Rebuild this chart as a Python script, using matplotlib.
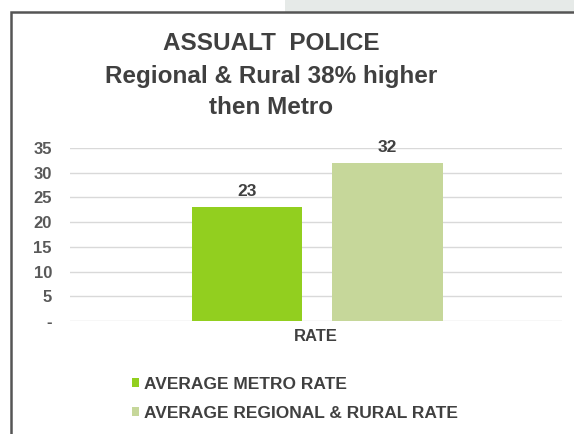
import matplotlib.pyplot as plt
from matplotlib.patches import Rectangle, Patch

plt.rcParams['font.family'] = ['Liberation Sans', 'DejaVu Sans']

# data
category = ['RATE']
series_names = ['AVERAGE METRO RATE', 'AVERAGE REGIONAL & RURAL RATE']
series_values = [23, 32]
series_colors = ['#92CF1F', '#C6D79A']
yticks = [0, 5, 10, 15, 20, 25, 30, 35]
ytick_labels = ['-', '5', '10', '15', '20', '25', '30', '35']
title_lines = ['ASSUALT  POLICE', 'Regional & Rural 38% higher', 'then Metro']

W, H = 574, 434
fig = plt.figure(figsize=(W / 100, H / 100), dpi=100)

# light strip above the frame on the right
fig.patches.append(Rectangle((285 / W, 1 - 12 / H), 1, 1, transform=fig.transFigure,
                             facecolor='#E6EAE8', edgecolor='none', zorder=0))
# chart frame (runs off the right and bottom of the picture)
fig.patches.append(Rectangle((11 / W, -0.1), 1, 1 - 12 / H + 0.1, transform=fig.transFigure,
                             facecolor='white', edgecolor='#555555', linewidth=1.8, zorder=1))

ax = fig.add_axes([70 / W, 1 - 321 / H, (562 - 70) / W, (321 - 148) / H])
ax.set_zorder(2)
ax.patch.set_alpha(0)

width = 0.224
gap = 0.061
offsets = [-(width + gap) / 2, (width + gap) / 2]
for off, val, col, name in zip(offsets, series_values, series_colors, series_names):
    ax.bar(0.003 + off, val, width=width, color=col, label=name, zorder=3)
    ax.text(0.003 + off, val + 1.6, str(val), ha='center', va='bottom',
            fontsize=12.5, fontweight='bold', color='#404040')

ax.set_xlim(-0.5, 0.5)
ax.set_ylim(0, 35)
ax.set_yticks(yticks)
ax.set_yticklabels(ytick_labels, fontsize=12, fontweight='bold', color='#595959')
ax.set_xticks([0.0])
ax.set_xticklabels(category, fontsize=12, fontweight='bold', color='#404040')
ax.tick_params(axis='y', length=0, pad=13)
ax.tick_params(axis='x', length=0, pad=6)
ax.grid(axis='y', color='#D9D9D9', linewidth=1)
ax.set_axisbelow(True)
for s in ax.spines.values():
    s.set_visible(False)

title_y = [44, 77, 108]
for line, yy in zip(title_lines, title_y):
    fig.text(0.472, 1 - yy / H, line, ha='center', va='center',
             fontsize=17.5, fontweight='bold', color='#404040', zorder=5)

handles = [Patch(facecolor=c, edgecolor='none') for c in series_colors]
leg = fig.legend(handles, series_names, loc='upper left',
                 bbox_to_anchor=(116 / W, 1 - 361 / H), frameon=False,
                 handlelength=0.45, handleheight=0.45, handletextpad=0.25,
                 labelspacing=0.8, prop={'weight': 'bold', 'size': 12.5})
for t in leg.get_texts():
    t.set_color('#404040')
leg.set_zorder(5)

fig.savefig('out.png', dpi=100)
